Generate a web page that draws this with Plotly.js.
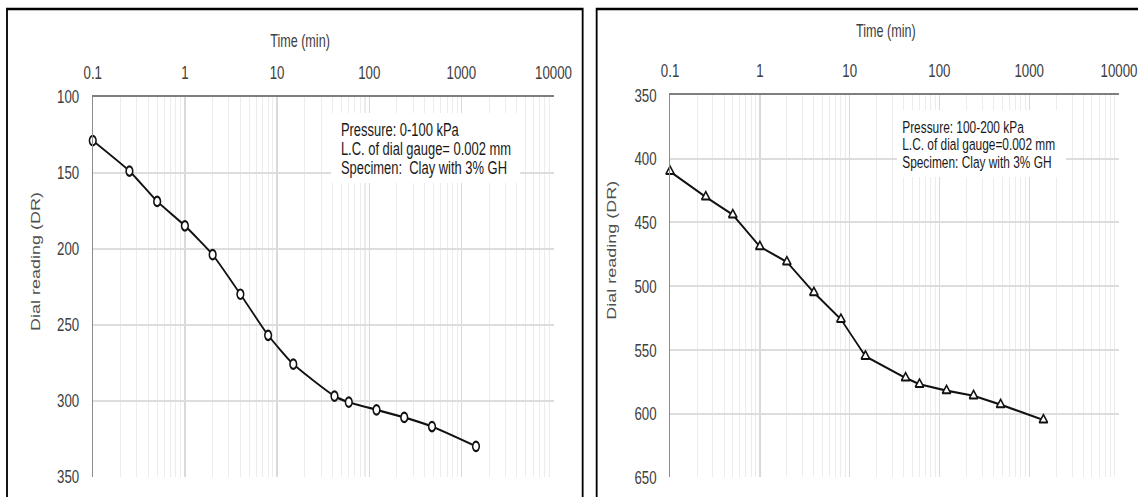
<!DOCTYPE html>
<html>
<head>
<meta charset="utf-8">
<script src="https://cdn.plot.ly/plotly-3.0.1.min.js"></script>
<style>
  html, body { margin: 0; padding: 0; overflow: hidden; background: #ffffff; }
  /* The figure is laid out wide and narrowed horizontally to its final 1138 px width */
  #chart { width: 1626px; height: 497px; transform: scaleX(0.69988); transform-origin: 0 0; }
</style>
</head>
<body>
<div id="chart"></div>
<script>
// Elapsed time of each dial reading (min)
const timeMin = [0.1, 0.25, 0.5, 1, 2, 4, 8, 15, 42, 60, 120, 240, 480, 1440];

// Dial readings, load increment 0-100 kPa
const drStage1 = [129, 149, 169, 185, 204, 230, 257, 276, 297, 301, 306, 311, 317, 330];

// Dial readings, load increment 100-200 kPa
const drStage2 = [410, 430, 444, 469, 481, 505, 526, 555, 572, 577, 582, 586, 593, 605];

// Axis ticks
const timeTicks = [0.1, 1, 10, 100, 1000, 10000];
const timeTickText = ['0.1', '1', '10', '100', '1000', '10000'];

// Test notes
const notesStage1 = ['Pressure: 0-100 kPa', 'L.C. of dial gauge= 0.002 mm', 'Specimen:  Clay with 3% GH'];
const notesStage2 = ['Pressure: 100-200 kPa', 'L.C. of dial gauge=0.002 mm', 'Specimen: Clay with 3% GH'];

// Minor log gridlines: 2..9 within each decade
const minorTimeGrid = [];
for (let d = -1; d <= 3; d++) {
  for (let m = 2; m <= 9; m++) {
    minorTimeGrid.push(parseFloat((m * Math.pow(10, d)).toPrecision(3)));
  }
}

const FONT = 'Liberation Sans, Arial, Helvetica, sans-serif';
const TEXT = '#404040';

const traces = [
  {
    x: timeMin, y: drStage1, xaxis: 'x', yaxis: 'y',
    type: 'scatter', mode: 'lines+markers',
    line: { color: '#111111', width: 2.2, shape: 'spline', smoothing: 0.5 },
    marker: { symbol: 'circle', size: 9.5, color: '#ffffff', line: { color: '#111111', width: 2.2 } },
    cliponaxis: false, hoverinfo: 'x+y'
  },
  {
    x: timeMin, y: drStage2, xaxis: 'x2', yaxis: 'y2',
    type: 'scatter', mode: 'lines+markers',
    line: { color: '#111111', width: 2.2 },
    marker: { symbol: 'triangle-up', size: 10.5, color: '#ffffff', line: { color: '#111111', width: 2 } },
    cliponaxis: false, hoverinfo: 'x+y'
  }
];

function timeAxis(domain, anchor) {
  return {
    domain: domain, anchor: anchor, type: 'log', range: [-1, 4], side: 'top',
    tickmode: 'array', tickvals: timeTicks, ticktext: timeTickText,
    ticks: '', ticklabelstandoff: 8,
    tickfont: { family: FONT, size: 19, color: TEXT },
    showgrid: true, gridcolor: '#d9d9d9', gridwidth: 2,
    minor: { tickmode: 'array', tickvals: minorTimeGrid, showgrid: true, gridcolor: '#ececec', gridwidth: 1.5, ticks: '' },
    showline: true, linecolor: '#7f7f7f', linewidth: 2,
    zeroline: false, fixedrange: true
  };
}

function readingAxis(domain, anchor, range) {
  return {
    domain: domain, anchor: anchor, range: range,
    tickmode: 'linear', tick0: 100, dtick: 50,
    ticks: '', ticklabelstandoff: 14,
    tickfont: { family: FONT, size: 19, color: TEXT },
    showgrid: true, gridcolor: '#dddddd', gridwidth: 2,
    showline: true, linecolor: '#8c8c8c', linewidth: 1.5,
    zeroline: false, fixedrange: true
  };
}

const annotations = [
  { text: 'Time (min)', xref: 'paper', yref: 'paper', x: 0.2636, y: 0.9185, showarrow: false,
    xanchor: 'center', yanchor: 'middle', font: { family: FONT, size: 18, color: TEXT } },
  { text: 'Time (min)', xref: 'paper', yref: 'paper', x: 0.7783, y: 0.9376, showarrow: false,
    xanchor: 'center', yanchor: 'middle', font: { family: FONT, size: 18, color: TEXT } },
  { text: 'Dial reading (DR)', xref: 'paper', yref: 'paper', x: 0.0314, y: 1 - 262 / 497, textangle: -90,
    showarrow: false, xanchor: 'center', yanchor: 'middle', font: { family: FONT, size: 18, color: '#505050' } },
  { text: 'Dial reading (DR)', xref: 'paper', yref: 'paper', x: 0.5374, y: 1 - 250 / 497, textangle: -90,
    showarrow: false, xanchor: 'center', yanchor: 'middle', font: { family: FONT, size: 18, color: '#505050' } }
];

const notesY1 = [1 - 129.2 / 497, 1 - 148.5 / 497, 1 - 167.8 / 497];
notesStage1.forEach((t, i) => annotations.push({
  text: t, xref: 'paper', yref: 'paper', x: 0.2988, y: notesY1[i], showarrow: false, borderpad: 0,
  xanchor: 'left', yanchor: 'middle', font: { family: FONT, size: 18.5, color: '#1a1a1a' }
}));
const notesY2 = [1 - 127 / 497, 1 - 144.5 / 497, 1 - 162 / 497];
notesStage2.forEach((t, i) => annotations.push({
  text: t, xref: 'paper', yref: 'paper', x: 0.7924, y: notesY2[i], showarrow: false, borderpad: 0,
  xanchor: 'left', yanchor: 'middle', font: { family: FONT, size: 17, color: '#1a1a1a' }
}));

const shapes = [
  // chart borders
  { type: 'rect', xref: 'paper', yref: 'paper', x0: 0.00615, x1: 0.5120, y0: -0.1, y1: 0.9819,
    line: { color: '#000000', width: 2.6 }, fillcolor: 'rgba(0,0,0,0)', layer: 'above' },
  { type: 'rect', xref: 'paper', yref: 'paper', x0: 0.5243, x1: 1.1, y0: -0.1, y1: 0.9819,
    line: { color: '#000000', width: 2.6 }, fillcolor: 'rgba(0,0,0,0)', layer: 'above' },
  // white backing behind the notes (gridlines hidden there)
  { type: 'rect', xref: 'paper', yref: 'paper', x0: 0.2909, x1: 0.4569, y0: 0.6318, y1: 0.7726,
    line: { width: 0 }, fillcolor: '#ffffff', layer: 'above' },
  { type: 'rect', xref: 'paper', yref: 'paper', x0: 0.7882, x1: 0.9367, y0: 0.6439, y1: 0.7787,
    line: { width: 0 }, fillcolor: '#ffffff', layer: 'above' }
];

const layout = {
  width: 1626, height: 497,
  margin: { l: 0, r: 0, t: 0, b: 0 },
  paper_bgcolor: '#ffffff', plot_bgcolor: '#ffffff',
  showlegend: false,
  font: { family: FONT, color: TEXT },
  xaxis: timeAxis([0.0815, 0.4864], 'y'),
  yaxis: readingAxis([0.0408, 0.8058], 'x', [350, 100]),
  xaxis2: timeAxis([0.5888, 0.9833], 'y2'),
  yaxis2: readingAxis([0.0396, 0.8089], 'x2', [650, 350]),
  annotations: annotations,
  shapes: shapes
};

Plotly.newPlot('chart', traces, layout, { staticPlot: true, displayModeBar: false });
</script>
</body>
</html>
